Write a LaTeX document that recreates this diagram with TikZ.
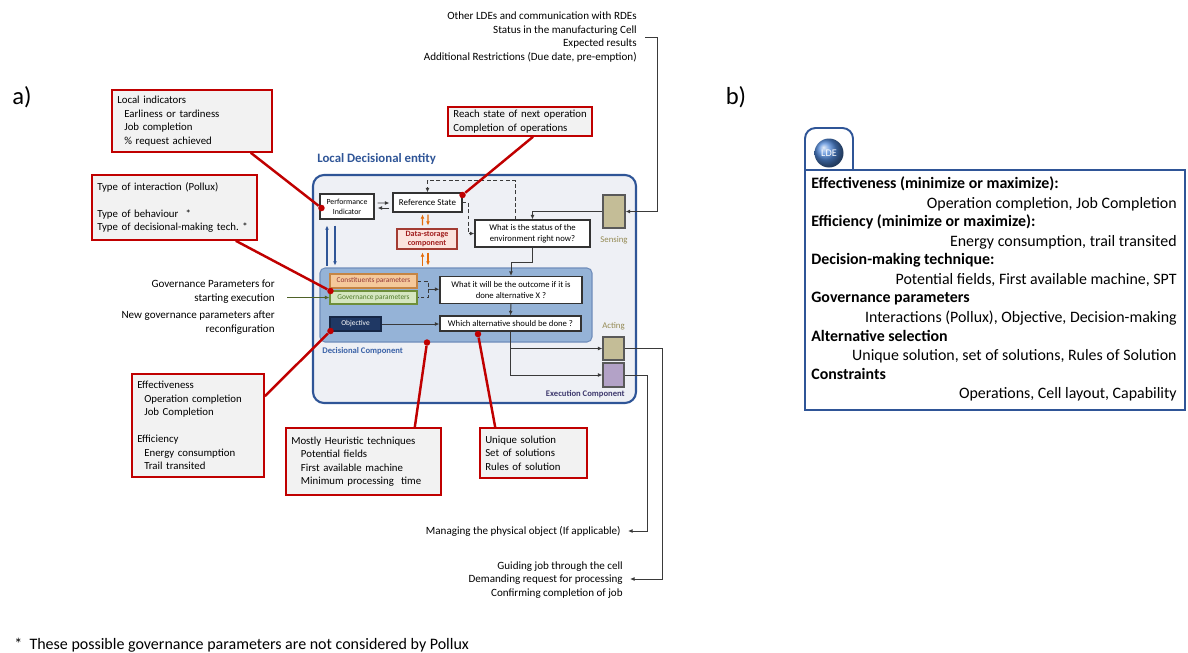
\documentclass[tikz,border=0pt]{standalone}
\usepackage{fontspec}
\setmainfont{Carlito}
\usepackage{xcolor}
\usetikzlibrary{calc}
\usetikzlibrary{arrows.meta}

% --- Colours ---
\definecolor{ldeBlue}{HTML}{2F5597}
\definecolor{ballBlue}{HTML}{5088D8}
\definecolor{ldeFill}{HTML}{EEF0F5}
\definecolor{decFill}{HTML}{95B3D7}
\definecolor{decLine}{HTML}{6F8DBB}
\definecolor{decText}{HTML}{3A62A7}
\definecolor{consFill}{HTML}{F5C99B}
\definecolor{consLine}{HTML}{C58544}
\definecolor{consText}{HTML}{943634}
\definecolor{govFill}{HTML}{D5E6C0}
\definecolor{govLine}{HTML}{6E8F3A}
\definecolor{govText}{HTML}{4F7A28}
\definecolor{objFill}{HTML}{1F3864}
\definecolor{dsFill}{HTML}{FBE3DD}
\definecolor{dsLine}{HTML}{A33B32}
\definecolor{dsText}{HTML}{A11E1E}
\definecolor{tanFill}{HTML}{C4BD97}
\definecolor{lilacFill}{HTML}{B3A2C7}
\definecolor{compText}{HTML}{948A54}
\definecolor{execText}{HTML}{3F3A6E}
\definecolor{calRed}{HTML}{C00000}
\definecolor{calFill}{HTML}{F2F2F2}
\definecolor{flowGray}{HTML}{3A3A3A}
\definecolor{stoOrange}{HTML}{E46C0A}
\definecolor{govArrow}{HTML}{4F6228}

\newcommand{\fsz}[2]{\fontsize{#1}{#2}\selectfont}

\begin{document}
\begin{tikzpicture}[x=0.02cm, y=-0.02cm,
    % --- Styles ---
    blk/.style 2 args = {draw=#1, fill=#2, rectangle, inner sep=0pt, align=center, line width=0.6pt},
    wh/.style 2 args = {minimum width=#1*0.02cm, minimum height=#2*0.02cm},
    qbox/.style = {blk={black!80}{white}, font=\fsz{4.95}{6.4}},
    ioBox/.style = {blk={black!65}{#1}},
    flow/.style = {color=flowGray, line width=0.55pt, -{Latex[length=2.6pt,width=2.2pt]}},
    dflow/.style = {flow, dash pattern=on 2.2pt off 1.4pt},
    pair/.style = {color=#1, line width=0.75pt, -{Latex[length=2.4pt,width=2.2pt]}},
    calloutBox/.style = {blk={calRed}{calFill}, line width=0.9pt, inner xsep=3pt, align=left, text width=#1, font=\fsz{6.15}{7.7}},
    redDot/.style = {circle, fill=calRed, inner sep=0pt, minimum size=0.13cm},
    redLine/.style = {color=calRed, line width=1.4pt},
    info/.style = {font=\fsz{6.3}{7.7}, inner sep=0pt},
    tag/.style = {font=\fsz{5}{6}, inner sep=0pt},
    bHead/.style = {font=\fsz{9.05}{11}\bfseries, anchor=west, inner sep=0pt, text height=1.5ex, text depth=.25ex},
    bItem/.style = {font=\fsz{9.05}{11}, anchor=east, inner sep=0pt, text height=1.5ex, text depth=.25ex}
    ]
    \useasboundingbox (0,0) rectangle (1188,653);

    % --- Panel labels ---
    \node[font=\fsz{14}{16}, inner sep=0pt] (lblA) at (22,97) {a)};
    \node[font=\fsz{14}{16}, inner sep=0pt] (lblB) at (736,97) {b)};

    % --- Local decisional entity ---
    \node[blk={ldeBlue}{ldeFill}, wh={323}{228}, rounded corners=0.22cm, line width=1.2pt] (lde) at (474.5,289) {};
    \node[font=\fsz{7.3}{8}\bfseries, text=ldeBlue, anchor=west, inner sep=0pt] (ldeTitle) at (317,159) {Local Decisional entity};
    \node[blk={decLine}{decFill}, wh={272}{74}, rounded corners=0.1cm] (decComp) at (456,305) {};
    \node[font=\fsz{4.9}{5.5}\bfseries, text=decText, anchor=west, inner sep=0pt] (decTitle) at (322,351) {Decisional Component};
    \node[font=\fsz{4.9}{5.5}\bfseries, text=execText, anchor=east, inner sep=0pt] (execTitle) at (625,394) {Execution Component};

    \node[qbox, wh={54}{25}, font=\fsz{4.45}{5.7}] (perfInd) at (347,206.5) {Performance\\Indicator};
    \node[qbox, wh={69}{19}, font=\fsz{5.1}{6}] (refState) at (427.5,202.5) {Reference State};
    \node[blk={dsLine}{dsFill}, wh={60}{20}, font=\fsz{4.6}{5.2}\bfseries, text=dsText] (dataSt) at (427,239) {Data-storage\\component};
    \node[qbox, wh={115}{27}] (status) at (532.5,233.5) {What is the status of the\\environment right now?};
    \node[blk={consLine}{consFill}, wh={87}{14}, font=\fsz{4.2}{4.6}, text=consText] (constPar) at (373.5,281) {Constituents parameters};
    \node[blk={govLine}{govFill}, wh={87}{13}, font=\fsz{4.2}{4.6}, text=govText] (govPar) at (373.5,297.5) {Governance parameters};
    \node[blk={objFill!70!black}{objFill}, wh={51}{14}, font=\fsz{4.2}{4.6}, text=white] (objective) at (355.5,324) {Objective};
    \node[qbox, wh={142}{27}, font=\fsz{4.95}{5.8}] (outcome) at (511,290) {What it will be the outcome if it is\\done alternative X ?};
    \node[qbox, wh={141}{15}] (whichAlt) at (510.5,323.5) {Which alternative should be done ?};

    \node[ioBox=tanFill, wh={22}{33}] (sensing) at (614,211.5) {};
    \node[tag, text=compText] (sensLbl) at (614,240) {Sensing};
    \node[ioBox=tanFill, wh={21}{23}] (acting) at (613.5,348.5) {};
    \node[tag, text=compText] (actLbl) at (613.5,326) {Acting};
    \node[ioBox=lilacFill, wh={21}{24}] (physObj) at (613.5,375) {};

    % --- Outside texts ---
    \node[info, align=right, anchor=east] (topTxt) at (637,37) {Other LDEs and communication with RDEs\\Status in the manufacturing Cell\\Expected results\\Additional Restrictions (Due date, pre-emption)};
    \coordinate (inTop) at (645,37);
    \node[info, align=right, anchor=east] (govTxt) at (275,291.5) {Governance Parameters for\\starting execution};
    \node[info, align=right, anchor=east] (newTxt) at (275,322.5) {New governance parameters after\\reconfiguration};
    \coordinate (govIn) at (287,297.5);
    \node[info, anchor=east] (physTxt) at (621,531) {Managing the physical object (If applicable)};
    \coordinate (outPhys) at (628,531);
    \node[info, align=right, anchor=east] (guideTxt) at (623,580) {Guiding job through the cell\\Demanding request for processing\\Confirming completion of job};
    \coordinate (outGuide) at (630,579);
    \node[font=\fsz{9.1}{11}, anchor=west, inner sep=0pt] (note) at (14,645) {*~~These possible governance parameters are not considered by Pollux};

    % --- Flow inside the entity ---
    \draw[flow] ($(perfInd.east)+(3,-3.5)$) -- ($(refState.west)+(-3,0.5)$);
    \draw[flow] ($(refState.west)+(-3,5.5)$) -- ($(perfInd.east)+(3,1.5)$);
    \draw[dflow] ($(status.north)+(-17.5,0)$) |- ($(refState.north)+(0,-12)$) -- (refState.north);
    \draw[dflow] (refState.east) -| ($(status.west)+(-6,0)$) -- (status.west);
    \draw[flow] (inTop) -- ++(12,0) |- (sensing.east);
    \draw[flow] (sensing.west) -| (status.north);
    \draw[flow] (status.south) -- ++(0,15) -| (outcome.north);
    \draw[dflow, -] (constPar.east) -- ++(11,0) |- (govPar.east);
    \coordinate (brk) at ($(constPar.east)!0.5!(govPar.east)+(11,0)$);
    \draw[flow] (brk) -- (brk -| outcome.west);
    \draw[flow] (outcome.south) -- (whichAlt.north);
    \draw[flow] (objective.east) -- (objective.east -| whichAlt.west);
    \draw[flow] (whichAlt.south) |- (acting.west);
    \draw[flow] (whichAlt.south) |- (physObj.west);
    \draw[flow] (acting.east) -- ++(38,0) |- (outGuide);
    \draw[flow] (physObj.east) -- ++(23,0) |- (outPhys);
    \draw[flow, color=govArrow] (govIn) -- (govIn -| govPar.west);

    % --- Storage and indicator exchanges ---
    \draw[pair=stoOrange] ($(dataSt.north)+(-4.5,-3)$) -- ($(refState.south)+(-5,2)$);
    \draw[pair=stoOrange] ($(refState.south)+(0.5,2)$) -- ($(dataSt.north)+(1,-3)$);
    \draw[pair=stoOrange] ($(dataSt.south)+(-4.5,16)$) -- ($(dataSt.south)+(-4.5,3)$);
    \draw[pair=stoOrange] ($(dataSt.south)+(1,3)$) -- ($(dataSt.south)+(1,16)$);
    \draw[pair=ldeBlue] ($(perfInd.south)+(-20,46)$) -- ($(perfInd.south)+(-20,6)$);
    \draw[pair=ldeBlue] ($(perfInd.south)+(-12,6)$) -- ($(perfInd.south)+(-12,46)$);

    % --- Callouts ---
    \node[calloutBox=85pt, wh={160}{62}] (locInd) at (192,121) {Local indicators\\\hspace*{4pt}Earliness or tardiness\\\hspace*{4pt}Job completion\\\hspace*{4pt}\% request achieved};
    \node[calloutBox=87.9pt, wh={165}{65}] (typeInt) at (174.5,207.5) {Type of interaction (Pollux)\\[7.7pt]Type of behaviour~~*\\\mbox{Type of decisional-making tech.~*}};
    \node[calloutBox=75.9pt, wh={144}{29}] (reach) at (520,121.5) {\mbox{Reach state of next operation}\\Completion of operations};
    \node[calloutBox=69.1pt, wh={132}{103}] (effect) at (198,425.5) {Effectiveness\\\hspace*{4pt}Operation completion\\\hspace*{4pt}Job Completion\\[7.7pt]Efficiency\\\hspace*{4pt}Energy consumption\\\hspace*{4pt}Trail transited};
    \node[calloutBox=82.2pt, wh={155}{67}] (heur) at (363.5,461.5) {Mostly Heuristic techniques\\\hspace*{5.5pt}Potential fields\\\hspace*{5.5pt}First available machine\\\hspace*{5.5pt}Minimum processing~~time};
    \node[calloutBox=54.9pt, wh={107}{50}] (uniq) at (533.5,453) {Unique solution\\Set of solutions\\Rules of solution};

    \node[redDot] (dotPerf) at ($(perfInd.west)+(2,1.5)$) {};
    \node[redDot] (dotGov) at ($(govPar.west)+(1,-6.5)$) {};
    \node[redDot] (dotRef) at ($(refState.east)+(0,-7.5)$) {};
    \node[redDot] (dotObj) at ($(objective.west)+(1,7)$) {};
    \node[redDot] (dotDec) at ($(decComp.south)+(-29,0)$) {};
    \node[redDot] (dotAlt) at ($(whichAlt.south)+(-32.5,2.5)$) {};

    \draw[redLine] ($(locInd.south east)+(-22,0)$) -- (dotPerf);
    \draw[redLine] ($(typeInt.south east)+(-22,0)$) -- (dotGov);
    \draw[redLine] ($(reach.south)+(13,0)$) -- (dotRef);
    \draw[redLine] ($(effect.north east)+(0,23)$) -- (dotObj);
    \draw[redLine] ($(heur.north east)+(-27,0)$) -- (dotDec);
    \draw[redLine] ($(uniq.north west)+(16,0)$) -- (dotAlt);

    % --- Panel b) ---
    \draw[ldeBlue, line width=1.1pt, fill=white, rounded corners=6] (805,170) -- (805,128) -- (853,128) -- (853,170);
    \node[blk={ldeBlue}{white}, wh={380}{240}, line width=1.1pt] (ldeCard) at (995,290) {};
    \node[circle, shading=ball, ball color=ballBlue, minimum size=0.58cm, inner sep=0pt, text=white, font=\fsz{5.8}{6}] (ldeBall) at (829,153) {LDE};
    \foreach \t [count=\i] in {{Effectiveness (minimize or maximize):}, {Efficiency (minimize or maximize):}, {Decision-making technique:}, {Governance parameters}, {Alternative selection}, {Constraints}}
        \node[bHead] (bHead\i) at (811,{183+38.2*(\i-1)}) {\t};
    \foreach \t [count=\i] in {{Operation completion, Job Completion}, {Energy consumption, trail transited}, {Potential fields, First available machine, SPT}, {Interactions (Pollux), Objective, Decision-making}, {Unique solution, set of solutions, Rules of Solution}, {Operations, Cell layout, Capability}}
        \node[bItem] (bItem\i) at (1177,{203+38*(\i-1)}) {\t};
\end{tikzpicture}
\end{document}
